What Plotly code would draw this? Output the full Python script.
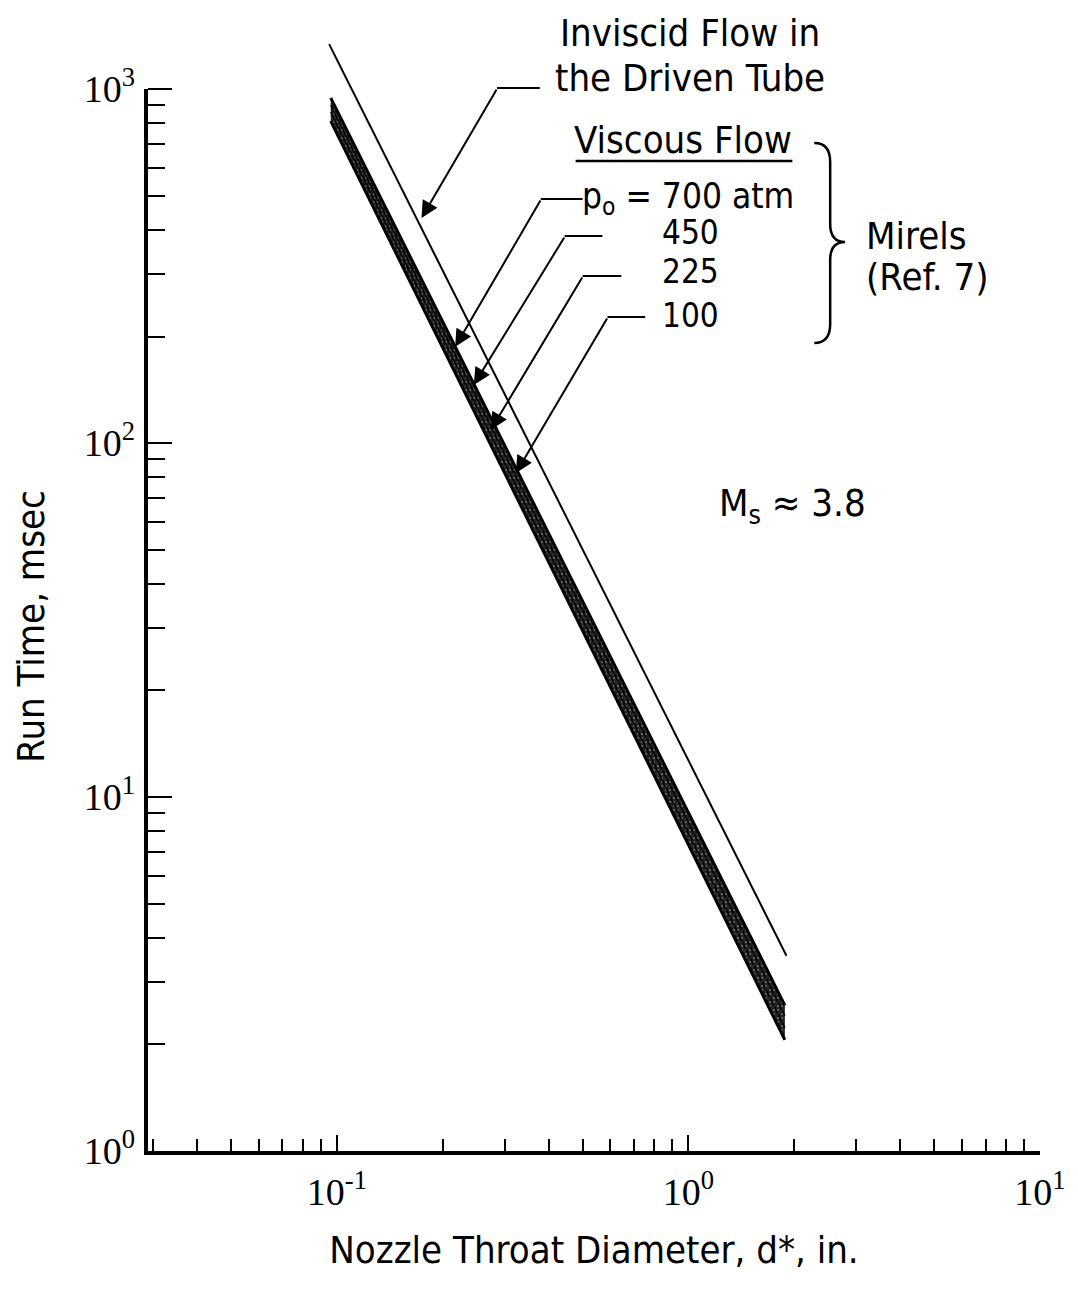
import math
import plotly.graph_objects as go

# ---------------- data ----------------
d_inviscid = [0.095, 1.90]
t_inviscid = [1340, 3.56]

d_viscous = [0.096, 1.88]
t_700 = [944, 2.58]
t_450 = [900, 2.41]
t_225 = [861, 2.23]
t_100 = [812, 2.06]

pressure_labels = ["p<sub>o</sub> = 700 atm", "450", "225", "100"]

x_tickvals = [0.1, 1, 10]
x_ticktext = ["10<sup>-1</sup>", "10<sup>0</sup>", "10<sup>1</sup>"]
y_tickvals = [1, 10, 100, 1000]
y_ticktext = ["10<sup>0</sup>", "10<sup>1</sup>", "10<sup>2</sup>", "10<sup>3</sup>"]

# arrow tips (data coords) for the leader lines
tip_inviscid = (0.174, 432)
tips_viscous = [(0.217, 187), (0.245, 146), (0.274, 109), (0.323, 82.3)]

# ---------------- layout geometry ----------------
W, H = 1078, 1295
XMIN, XMAX = -1.5375, 1.0
YMIN, YMAX = 0.0, 3.15          # axis line itself stops at 10^3
L, R, T, B = 148, 33, 36, 144
PW, PH = W - L - R, H - T - B
FONT = "DejaVu Sans Condensed, Liberation Sans Narrow, Arial Narrow, sans-serif"
SERIF = "Liberation Serif, DejaVu Serif, serif"
FS = 38


def P(px, py):
    """pixel -> paper coords"""
    return (px - L) / PW, (H - B - py) / PH


def data_px(xv, yv):
    px = L + (math.log10(xv) - XMIN) / (XMAX - XMIN) * PW
    py = T + (YMAX - math.log10(yv)) / (YMAX - YMIN) * PH
    return px, py


fig = go.Figure()

fig.add_trace(go.Scatter(x=d_inviscid, y=t_inviscid, mode="lines",
                         line=dict(color="black", width=2), showlegend=False,
                         name="Inviscid"))
fig.add_trace(go.Scatter(x=d_viscous, y=t_100, mode="lines",
                         line=dict(color="black", width=3), showlegend=False,
                         name="100 atm"))
fig.add_trace(go.Scatter(x=d_viscous, y=t_700, mode="lines", fill="tonexty",
                         fillcolor="#2a2a2a",
                         fillpattern=dict(shape=".", bgcolor="#202020",
                                          fgcolor="#9a9a9a", size=4, solidity=0.3),
                         line=dict(color="black", width=3), showlegend=False,
                         name="700 atm"))
fig.add_trace(go.Scatter(x=d_viscous, y=t_450, mode="lines",
                         line=dict(color="black", width=1.5), showlegend=False,
                         name="450 atm"))
fig.add_trace(go.Scatter(x=d_viscous, y=t_225, mode="lines",
                         line=dict(color="black", width=1.5), showlegend=False,
                         name="225 atm"))

annotations = []
shapes = []

# y axis line (stops at 10^3 while the range continues above it)
x0, y0 = P(146, 1155)
x1, y1 = P(146, data_px(1, 1000)[1])
shapes.append(dict(type="line", xref="paper", yref="paper", x0=x0, y0=y0, x1=x1, y1=y1,
                   line=dict(color="black", width=4)))

ARROW = dict(showarrow=True, arrowhead=2, arrowsize=1.7, arrowwidth=2,
             arrowcolor="black", standoff=0, text="", xref="x", yref="y")

# --- inviscid leader
tpx, tpy = data_px(*tip_inviscid)
annotations.append(dict(x=math.log10(tip_inviscid[0]), y=math.log10(tip_inviscid[1]),
                        ax=499 - tpx, ay=88 - tpy, **ARROW))
x0, y0 = P(499, 88)
x1, y1 = P(542, 88)
shapes.append(dict(type="line", xref="paper", yref="paper", x0=x0, y0=y0, x1=x1, y1=y1,
                   line=dict(color="black", width=2)))
for txt, py in [("Inviscid Flow in", 33), ("the Driven Tube", 78)]:
    px_, py_ = P(693, py)
    annotations.append(dict(x=px_, y=py_, xref="paper", yref="paper", text=txt,
                            showarrow=False, xanchor="center", yanchor="middle",
                            font=dict(family=FONT, size=FS, color="black")))

# --- viscous header
px_, py_ = P(686, 140)
annotations.append(dict(x=px_, y=py_, xref="paper", yref="paper", text="Viscous Flow",
                        showarrow=False, xanchor="center", yanchor="middle",
                        font=dict(family=FONT, size=FS, color="black")))
x0, y0 = P(578, 161)
x1, y1 = P(796, 161)
shapes.append(dict(type="line", xref="paper", yref="paper", x0=x0, y0=y0, x1=x1, y1=y1,
                   line=dict(color="black", width=2.5)))

# --- viscous leaders
elbows = [(543, 199, 585), (567, 236, 605), (585, 276, 624), (610, 317, 648)]
label_pos = [(799, 198, "right"), (694, 232, "center"), (694, 271, "center"), (694, 316, "center")]
label_size = [35, 33, 33, 33]
for (tx, ty), (ex, ey, hx), lab, (lx, ly, anc), fs in zip(tips_viscous, elbows,
                                                          pressure_labels, label_pos, label_size):
    tpx, tpy = data_px(tx, ty)
    annotations.append(dict(x=math.log10(tx), y=math.log10(ty),
                            ax=ex - tpx, ay=ey - tpy, **ARROW))
    x0, y0 = P(ex, ey)
    x1, y1 = P(hx, ey)
    shapes.append(dict(type="line", xref="paper", yref="paper", x0=x0, y0=y0,
                       x1=x1, y1=y1, line=dict(color="black", width=2)))
    px_, py_ = P(lx, ly)
    annotations.append(dict(x=px_, y=py_, xref="paper", yref="paper", text=lab,
                            showarrow=False, xanchor=anc, yanchor="middle", borderpad=0,
                            font=dict(family=FONT, size=fs, color="black")))

# --- brace
pts = [(818, 143), (834, 143), (834, 162), (834, 224), (834, 242), (849, 242),
       (834, 242), (834, 260), (834, 324), (834, 343), (818, 343)]
pp = [P(*p) for p in pts]
path = (f"M {pp[0][0]},{pp[0][1]} Q {pp[1][0]},{pp[1][1]} {pp[2][0]},{pp[2][1]} "
        f"L {pp[3][0]},{pp[3][1]} Q {pp[4][0]},{pp[4][1]} {pp[5][0]},{pp[5][1]} "
        f"Q {pp[6][0]},{pp[6][1]} {pp[7][0]},{pp[7][1]} "
        f"L {pp[8][0]},{pp[8][1]} Q {pp[9][0]},{pp[9][1]} {pp[10][0]},{pp[10][1]}")
shapes.append(dict(type="path", xref="paper", yref="paper", path=path,
                   line=dict(color="black", width=2.5)))

for txt, py in [("Mirels", 236), ("(Ref. 7)", 277)]:
    px_, py_ = P(868, py)
    annotations.append(dict(x=px_, y=py_, xref="paper", yref="paper", text=txt,
                            showarrow=False, xanchor="left", yanchor="middle",
                            font=dict(family=FONT, size=FS, color="black")))

px_, py_ = P(720, 505)
annotations.append(dict(x=px_, y=py_, xref="paper", yref="paper",
                        text="M<sub>s</sub> \u2248 3.8",
                        showarrow=False, xanchor="left", yanchor="middle",
                        font=dict(family=FONT, size=FS, color="black")))

# --- y axis title (placed like the reference, below plot centre)
px_, py_ = P(30, 627)
annotations.append(dict(x=px_, y=py_, xref="paper", yref="paper", text="Run Time, msec",
                        textangle=-90, showarrow=False, xanchor="center", yanchor="middle",
                        font=dict(family=FONT, size=FS, color="black")))

x_minor = [m * 10 ** k for k in (-2, -1, 0) for m in range(2, 10)]
x_minor = [v for v in x_minor if 0.03 <= v <= 10]
y_minor = [m * 10 ** k for k in (0, 1, 2) for m in range(2, 10)]

fig.update_layout(
    width=W, height=H,
    margin=dict(l=L, r=R, t=T, b=B, pad=0),
    paper_bgcolor="white", plot_bgcolor="white",
    showlegend=False,
    xaxis=dict(type="log", range=[XMIN, XMAX], showgrid=False, zeroline=False,
               showline=True, linewidth=4, linecolor="black",
               ticks="inside", ticklen=16, tickwidth=2, tickcolor="black",
               tickvals=x_tickvals, ticktext=x_ticktext,
               tickfont=dict(family=SERIF, size=38, color="black"),
               ticklabelstandoff=4,
               minor=dict(ticks="inside", ticklen=12, tickwidth=2, tickcolor="black",
                          tickvals=x_minor, showgrid=False),
               title=dict(text="Nozzle Throat Diameter, d*, in.", standoff=26,
                          font=dict(family=FONT, size=FS, color="black"))),
    yaxis=dict(type="log", range=[YMIN, YMAX], showgrid=False, zeroline=False,
               showline=False,
               ticks="inside", ticklen=24, tickwidth=2, tickcolor="black",
               tickvals=y_tickvals, ticktext=y_ticktext,
               tickfont=dict(family=SERIF, size=38, color="black"),
               ticklabelstandoff=12,
               minor=dict(ticks="inside", ticklen=17, tickwidth=2, tickcolor="black",
                          tickvals=y_minor, showgrid=False)),
    annotations=annotations,
    shapes=shapes,
)

fig.write_html("out.html")
